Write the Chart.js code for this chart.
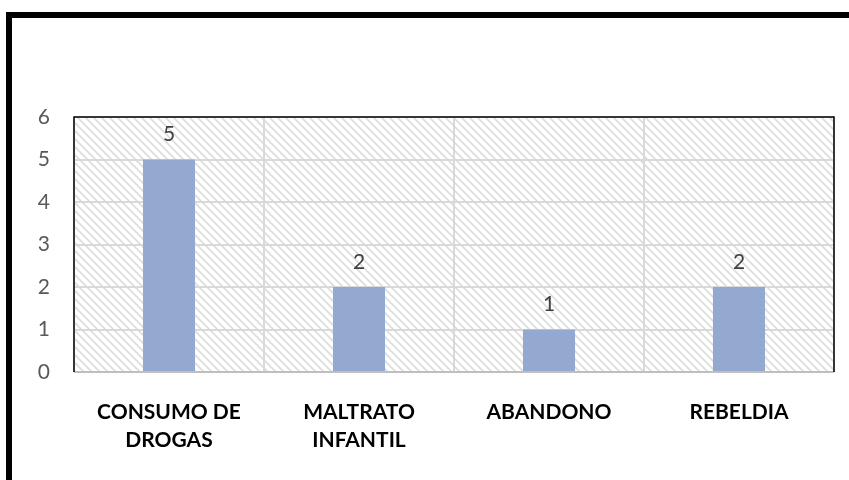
<!DOCTYPE html>
<html>
<head>
<meta charset="utf-8">
<script src="https://cdn.jsdelivr.net/npm/chart.js@4.4.1/dist/chart.umd.min.js"></script>
<style>
	html, body { margin: 0; padding: 0; background: #fff; overflow: hidden; }
	#wrap { position: relative; width: 849px; height: 480px; }
	#frame { position: absolute; left: 6px; top: 12px; width: 900px; height: 500px;
		border-left: 6px solid #000; border-top: 6px solid #000; }
	canvas { position: absolute; left: 0; top: 0; }
</style>
</head>
<body>
<div id="wrap">
	<div id="frame"></div>
	<canvas id="mycanvas" width="849" height="480"></canvas>
</div>
<script>
var categorias = [["CONSUMO DE", "DROGAS"], ["MALTRATO", "INFANTIL"], "ABANDONO", "REBELDIA"];
var valores = [5, 2, 1, 2];
var ticksY = [0, 1, 2, 3, 4, 5, 6];

// hatch pattern for the plot area
function makeHatch() {
	var c = document.createElement('canvas');
	c.width = 8; c.height = 8;
	var g = c.getContext('2d');
	g.fillStyle = '#ffffff';
	g.fillRect(0, 0, 8, 8);
	g.strokeStyle = '#dcdcdc';
	g.lineWidth = 1.6;
	g.beginPath();
	g.moveTo(-2, -2); g.lineTo(10, 10);
	g.moveTo(-2, 6); g.lineTo(2, 10);
	g.moveTo(6, -2); g.lineTo(10, 2);
	g.stroke();
	return g.createPattern(c, 'repeat');
}

var fondo = {
	id: 'fondo',
	beforeDraw: function(chart) {
		var a = chart.chartArea, ctx = chart.ctx;
		ctx.save();
		ctx.fillStyle = makeHatch();
		ctx.fillRect(a.left, a.top, a.right - a.left, a.bottom - a.top);
		ctx.restore();
	},
	afterDraw: function(chart) {
		var a = chart.chartArea, ctx = chart.ctx;
		ctx.save();
		ctx.strokeStyle = '#bfbfbf';
		ctx.lineWidth = 2;
		ctx.beginPath();
		ctx.moveTo(a.left, a.bottom); ctx.lineTo(a.right, a.bottom);
		ctx.stroke();
		ctx.strokeStyle = '#000';
		ctx.lineWidth = 1.5;
		ctx.beginPath();
		ctx.moveTo(a.left, a.bottom); ctx.lineTo(a.left, a.top);
		ctx.lineTo(a.right, a.top); ctx.lineTo(a.right, a.bottom);
		ctx.stroke();
		// value labels
		var meta = chart.getDatasetMeta(0);
		ctx.fillStyle = '#404040';
		ctx.font = '21px Lato';
		ctx.textAlign = 'center';
		ctx.textBaseline = 'middle';
		meta.data.forEach(function(bar, i) {
			ctx.fillText(valores[i], bar.x, bar.y - 25);
		});
		ctx.restore();
	}
};

var ctx = document.getElementById('mycanvas');
var grafico = new Chart(ctx, {
	type: 'bar',
	data: {
		labels: categorias,
		datasets: [{
			data: valores,
			backgroundColor: '#94a9d0',
			borderWidth: 0,
			barPercentage: 0.274,
			categoryPercentage: 1
		}]
	},
	options: {
		responsive: false,
		animation: false,
		devicePixelRatio: 1,
		layout: { padding: { top: 117, right: 15, left: 0, bottom: 0 } },
		plugins: { legend: { display: false }, tooltip: { enabled: false } },
		scales: {
			x: {
				grid: { color: '#d9d9d9', lineWidth: 2, drawTicks: false, offset: true },
				border: { display: false },
				ticks: { color: '#000', font: { family: 'Lato', size: 21, weight: 'bold', lineHeight: 1.35 }, padding: 26, maxRotation: 0, autoSkip: false },
				afterFit: function(s) { s.height = 108; }
			},
			y: {
				min: 0, max: 6,
				afterBuildTicks: function(s) { s.ticks = ticksY.map(function(v) { return { value: v }; }); },
				grid: { color: '#d9d9d9', lineWidth: 2, drawTicks: false },
				border: { display: false },
				ticks: { color: '#595959', font: { family: 'Lato', size: 21 }, padding: 24 },
				afterFit: function(s) { s.width = 74; }
			}
		}
	},
	plugins: [fondo]
});
</script>
</body>
</html>
